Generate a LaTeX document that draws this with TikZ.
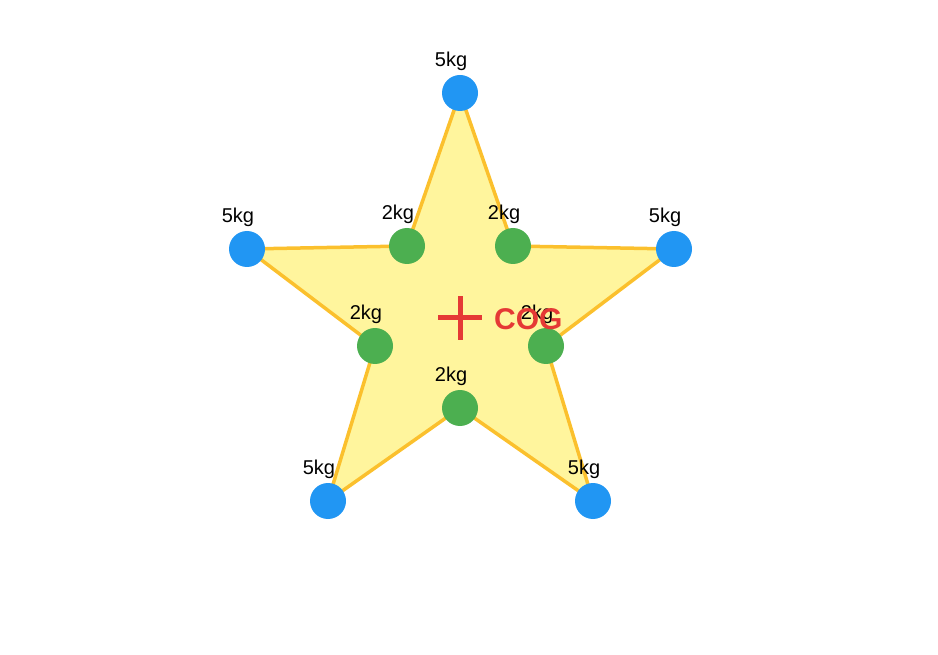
\documentclass[tikz,border=0pt]{standalone}
\usepackage{fontspec}
\setmainfont{Liberation Sans}
\definecolor{starfill}{HTML}{FFF59D}
\definecolor{staredge}{HTML}{FBC02D}
\definecolor{heavyblue}{HTML}{2196F3}
\definecolor{lightgreen}{HTML}{4CAF50}
\definecolor{cogred}{HTML}{E53935}
\tikzset{
  heavy/.style={circle, fill=heavyblue, inner sep=0pt, minimum size=36pt},
  light/.style={circle, fill=lightgreen, inner sep=0pt, minimum size=36pt},
  masslabel/.style={inner sep=0pt, font=\fontsize{20}{24}\selectfont},
}
\begin{document}
\begin{tikzpicture}[x=1pt, y=-1pt]
            \useasboundingbox (0,0) rectangle (938,655);

            % outer and inner corners
            \coordinate (o1) at (460,93);
            \coordinate (o2) at (674,249);
            \coordinate (o3) at (593,501);
            \coordinate (o4) at (328,501);
            \coordinate (o5) at (247,249);
            \coordinate (i1) at (513,246);
            \coordinate (i2) at (546,346);
            \coordinate (i3) at (460,408);
            \coordinate (i4) at (375,346);
            \coordinate (i5) at (407,246);

            \draw[fill=starfill, draw=staredge, line width=3.5pt, line join=round]
                (o1) -- (i1) -- (o2) -- (i2) -- (o3) -- (i3) -- (o4) -- (i4) -- (o5) -- (i5) -- cycle;

            \node[heavy] (m1) at (o1) {};
            \node[heavy] (m2) at (o2) {};
            \node[heavy] (m3) at (o3) {};
            \node[heavy] (m4) at (o4) {};
            \node[heavy] (m5) at (o5) {};
            \node[light] (n1) at (i1) {};
            \node[light] (n2) at (i2) {};
            \node[light] (n3) at (i3) {};
            \node[light] (n4) at (i4) {};
            \node[light] (n5) at (i5) {};

            \node[masslabel] (lm1) at ([shift={(-9,-32)}]o1) {5kg};
            \node[masslabel] (lm2) at ([shift={(-9,-32)}]o2) {5kg};
            \node[masslabel] (lm3) at ([shift={(-9,-32)}]o3) {5kg};
            \node[masslabel] (lm4) at ([shift={(-9,-32)}]o4) {5kg};
            \node[masslabel] (lm5) at ([shift={(-9,-32)}]o5) {5kg};
            \node[masslabel] (ln1) at ([shift={(-9,-32)}]i1) {2kg};
            \node[masslabel] (ln2) at ([shift={(-9,-32)}]i2) {2kg};
            \node[masslabel] (ln3) at ([shift={(-9,-32)}]i3) {2kg};
            \node[masslabel] (ln4) at ([shift={(-9,-32)}]i4) {2kg};
            \node[masslabel] (ln5) at ([shift={(-9,-32)}]i5) {2kg};

            % centre of gravity
            \coordinate (cog) at (460,318);
            \draw[cogred, line width=5pt] ([xshift=-22pt]cog) -- ([xshift=22pt]cog);
            \draw[cogred, line width=5pt] ([yshift=-22pt]cog) -- ([yshift=22pt]cog);
            \node[anchor=west, inner sep=0pt, text=cogred, font=\fontsize{30}{36}\selectfont\bfseries] (cogtext) at (494,319) {COG};
\end{tikzpicture}
\end{document}
